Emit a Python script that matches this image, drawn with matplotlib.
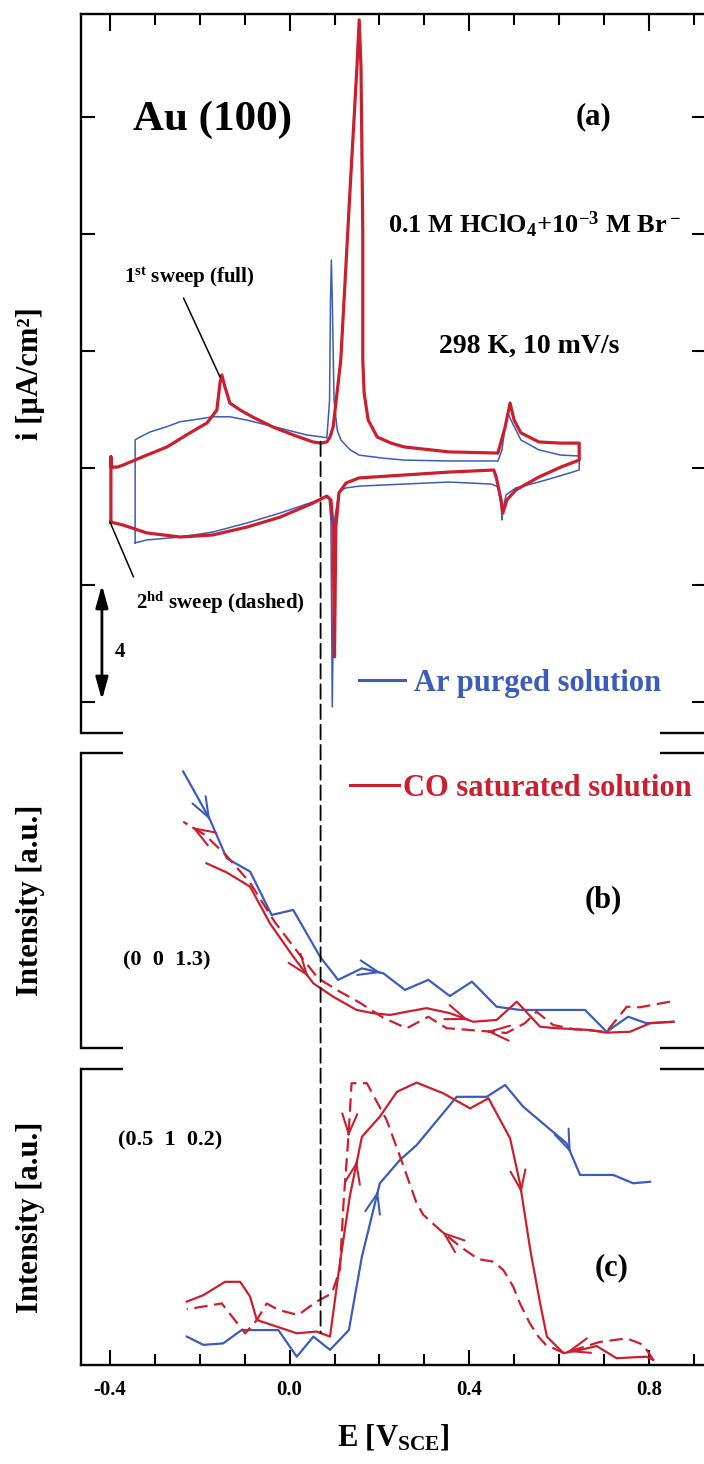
import matplotlib.pyplot as plt
from matplotlib.lines import Line2D
from matplotlib.patches import ConnectionPatch
from matplotlib.ticker import MultipleLocator

plt.rcParams['font.family'] = ['Liberation Serif', 'DejaVu Serif']
plt.rcParams['font.weight'] = 'bold'
plt.rcParams['axes.labelweight'] = 'bold'
plt.rcParams['mathtext.fontset'] = 'custom'
plt.rcParams['mathtext.rm'] = 'Liberation Serif:bold'
plt.rcParams['mathtext.bf'] = 'Liberation Serif:bold'
plt.rcParams['mathtext.default'] = 'bf'
plt.rcParams['axes.unicode_minus'] = False

BLUE = '#3b5cbd'
RED = '#cc1f2e'

# ---- (a) cyclic voltammograms, E [V_SCE] vs i [uA/cm2]
cv_ar_E = [-0.344, -0.344, -0.333, -0.311, -0.274, -0.244, -0.200, -0.171, -0.133, -0.096,
           -0.051, -0.006, 0.038, 0.072, 0.083, 0.089, 0.091, 0.093, 0.095, 0.099,
           0.106, 0.114, 0.135, 0.155, 0.206, 0.255, 0.355, 0.464, 0.473, 0.482,
           0.486, 0.493, 0.515, 0.555, 0.604, 0.645, 0.645, 0.602, 0.555, 0.504,
           0.482, 0.475, 0.473, 0.471, 0.464, 0.450, 0.355, 0.255, 0.155, 0.126,
           0.110, 0.100, 0.095, 0.092, 0.088, 0.079, 0.052, -0.021, -0.095, -0.171,
           -0.244, -0.318, -0.344]
cv_ar_i = [-2.56, 0.96, 1.06, 1.23, 1.41, 1.58, 1.68, 1.75, 1.75, 1.64,
           1.47, 1.30, 1.13, 1.06, 1.03, 2.32, 5.74, 7.11, 5.74, 2.32,
           1.30, 0.96, 0.62, 0.44, 0.34, 0.27, 0.24, 0.24, 0.62, 1.64,
           1.88, 1.64, 0.96, 0.62, 0.44, 0.41, -0.07, -0.27, -0.48, -0.68,
           -0.92, -1.44, -1.78, -1.26, -0.65, -0.55, -0.48, -0.55, -0.62, -0.68,
           -0.80, -1.78, -8.17, -1.78, -1.05, -0.99, -1.16, -1.54, -1.88, -2.19,
           -2.36, -2.46, -2.56]

cv_co_E = [-0.398, -0.398, -0.398, -0.384, -0.371, -0.318, -0.273, -0.222, -0.184, -0.162,
           -0.155, -0.151, -0.144, -0.133, -0.110, -0.082, -0.037, 0.008, 0.052, 0.070,
           0.083, 0.090, 0.097, 0.114, 0.135, 0.150, 0.155, 0.159, 0.163, 0.163,
           0.166, 0.175, 0.195, 0.226, 0.255, 0.355, 0.464, 0.480, 0.491, 0.500,
           0.515, 0.555, 0.604, 0.645, 0.645, 0.604, 0.555, 0.504, 0.484, 0.475,
           0.471, 0.460, 0.455, 0.355, 0.255, 0.155, 0.126, 0.110, 0.103, 0.100,
           0.097, 0.092, 0.083, 0.052, -0.021, -0.095, -0.171, -0.244, -0.318, -0.371,
           -0.398]
cv_co_i = [-1.85, 0.38, 0.03, 0.03, 0.10, 0.44, 0.72, 1.20, 1.54, 1.98,
           2.91, 3.18, 2.77, 2.22, 1.98, 1.74, 1.40, 1.13, 0.89, 0.85,
           0.89, 1.06, 1.40, 3.69, 9.61, 13.71, 15.32, 13.71, 8.03, 3.69,
           2.56, 1.64, 1.06, 0.85, 0.72, 0.55, 0.51, 1.40, 2.22, 1.64,
           1.20, 0.89, 0.85, 0.85, 0.27, 0.03, -0.31, -0.75, -1.09, -1.54,
           -1.09, -0.31, -0.07, -0.14, -0.24, -0.34, -0.51, -0.85, -2.02, -6.46,
           -2.02, -1.09, -0.96, -1.20, -1.68, -2.02, -2.29, -2.36, -2.22, -1.95,
           -1.85]

# ---- (b) (0 0 1.3) intensity, a.u.
b_ar_E = [-0.237, -0.214, -0.177, -0.140, -0.088, -0.040, 0.008, 0.068, 0.108, 0.161,
          0.209, 0.257, 0.309, 0.357, 0.406, 0.461, 0.513, 0.658, 0.706, 0.754,
          0.795, 0.855]
b_ar_I = [0.937, 0.875, 0.773, 0.643, 0.598, 0.451, 0.468, 0.309, 0.231, 0.270,
          0.253, 0.197, 0.231, 0.176, 0.225, 0.140, 0.129, 0.129, 0.055, 0.106,
          0.084, 0.089]
b_co1_E = [-0.185, -0.140, -0.088, -0.044, 0.008, 0.053, 0.097, 0.149, 0.186, 0.224,
           0.261, 0.305, 0.357, 0.409, 0.461, 0.506, 0.558, 0.595, 0.669, 0.706,
           0.758, 0.803, 0.855]
b_co1_I = [0.626, 0.595, 0.547, 0.423, 0.310, 0.219, 0.174, 0.129, 0.118, 0.112,
           0.123, 0.135, 0.118, 0.089, 0.095, 0.157, 0.072, 0.067, 0.061, 0.052,
           0.055, 0.084, 0.089]
b_co2_E = [0.847, 0.780, 0.751, 0.706, 0.632, 0.587, 0.550, 0.524, 0.483, 0.402,
           0.350, 0.320, 0.309, 0.261, 0.209, 0.157, 0.105, 0.063, 0.023, -0.033,
           -0.088, -0.140, -0.188, -0.237]
b_co2_I = [0.157, 0.138, 0.140, 0.055, 0.064, 0.078, 0.123, 0.084, 0.051, 0.061,
           0.067, 0.095, 0.106, 0.067, 0.102, 0.153, 0.197, 0.237, 0.315, 0.427,
           0.560, 0.651, 0.722, 0.767]

# ---- (c) (0.5 1 0.2) intensity, a.u.
c_ar_E = [-0.229, -0.192, -0.148, -0.107, -0.025, 0.016, 0.053, 0.090, 0.132, 0.161,
          0.201, 0.246, 0.283, 0.372, 0.439, 0.480, 0.520, 0.573, 0.617, 0.647,
          0.721, 0.765, 0.803]
c_ar_I = [0.096, 0.068, 0.073, 0.118, 0.118, 0.028, 0.096, 0.051, 0.118, 0.366,
          0.614, 0.693, 0.743, 0.906, 0.906, 0.946, 0.873, 0.805, 0.749, 0.642,
          0.642, 0.614, 0.619]
c_co1_E = [-0.229, -0.192, -0.144, -0.110, -0.088, -0.073, -0.029, 0.016, 0.060, 0.090,
           0.112, 0.134, 0.161, 0.201, 0.239, 0.283, 0.342, 0.402, 0.443, 0.491,
           0.513, 0.536, 0.558, 0.573, 0.610, 0.647, 0.684, 0.728, 0.795, 0.810]
c_co1_I = [0.214, 0.236, 0.281, 0.281, 0.231, 0.152, 0.130, 0.107, 0.113, 0.096,
           0.344, 0.569, 0.771, 0.839, 0.923, 0.954, 0.918, 0.867, 0.901, 0.766,
           0.614, 0.389, 0.208, 0.096, 0.040, 0.051, 0.064, 0.023, 0.028, 0.017]
c_co2_E = [0.810, 0.788, 0.751, 0.691, 0.647, 0.610, 0.571, 0.554, 0.535, 0.513,
           0.498, 0.476, 0.454, 0.420, 0.380, 0.335, 0.298, 0.283, 0.246, 0.216,
           0.172, 0.138, 0.131, 0.120, 0.112, 0.094, 0.060, 0.019, -0.025, -0.051,
           -0.073, -0.099, -0.151, -0.214, -0.229]
c_co2_I = [0.017, 0.068, 0.090, 0.078, 0.057, 0.041, 0.068, 0.096, 0.141, 0.208,
           0.265, 0.321, 0.349, 0.358, 0.400, 0.456, 0.507, 0.546, 0.704, 0.828,
           0.952, 0.952, 0.771, 0.546, 0.321, 0.242, 0.214, 0.169, 0.186, 0.208,
           0.152, 0.107, 0.208, 0.192, 0.189]

# sweep direction arrows: (segment index, position along segment)
b_ar_arrows = [(1, 1.0), (9, 0.9)]
b_co1_arrows = [(4, 0.75), (12, 0.8)]
b_co2_arrows = [(8, 0.55), (22, 0.6)]
c_ar_arrows = [(9, 0.9), (18, 0.3)]
c_co1_arrows = [(11, 0.6), (20, 0.15)]
c_co2_arrows = [(21, 1.0), (14, 0.9), (4, 0.8)]

x_ticks = [-0.4, 0.0, 0.4, 0.8]
x_tick_labels = ['-0.4', '0.0', '0.4', '0.8']
i_ticks = [-8, -4, 0, 4, 8, 12]
E_marker = 0.069

W, H = 704, 1464
fig = plt.figure(figsize=(W / 100, H / 100), dpi=100)


def px_axes(left, top, right, bottom):
    return fig.add_axes([left / W, 1 - bottom / H, (right - left) / W, (bottom - top) / H])


def stub(ax, y):
    # short pieces of a broken frame line on both sides
    for x0, x1 in [(0, 0.067), (0.926, 1.0)]:
        ax.plot([x0, x1], [y, y], transform=ax.transAxes, clip_on=False,
                color='k', lw=1.7, solid_capstyle='butt')


def mark_arrow(ax, xs, ys, seg, t, color):
    x0, y0, x1, y1 = xs[seg], ys[seg], xs[seg + 1], ys[seg + 1]
    tip = (x0 + t * (x1 - x0), y0 + t * (y1 - y0))
    tail = (x0 + (t - 0.05) * (x1 - x0), y0 + (t - 0.05) * (y1 - y0))
    ax.annotate('', xy=tip, xytext=tail,
                arrowprops=dict(arrowstyle='->,head_length=0.8,head_width=0.3', color=color,
                                lw=1.5, shrinkA=0, shrinkB=0, mutation_scale=18))


ax_a = px_axes(81, 14, 706, 733)
ax_b = px_axes(81, 753, 706, 1048)
ax_c = px_axes(81, 1069, 706, 1365)

for ax in (ax_a, ax_b, ax_c):
    ax.set_xlim(-0.4646, 0.9274)
    for s in ax.spines.values():
        s.set_linewidth(1.7)
    ax.spines['bottom'].set_visible(False)
    ax.spines['top'].set_visible(False)
    ax.spines['right'].set_visible(False)
    ax.set_ylabel('Intensity [a.u.]', fontsize=22)
    ax.yaxis.set_label_coords(-0.057, 0.5)
    ax.tick_params(left=False, bottom=False, labelleft=False, labelbottom=False)

# panel (a)
ax_a.set_ylim(-9.06, 15.52)
ax_a.spines['top'].set_visible(True)
ax_a.spines['right'].set_visible(True)
stub(ax_a, 0)
ax_a.set_yticks(i_ticks)
ax_a.tick_params(axis='y', left=True, right=True, direction='in', length=10, width=1.5)
ax_a.xaxis.set_major_locator(MultipleLocator(0.4))
ax_a.xaxis.set_minor_locator(MultipleLocator(0.1))
ax_a.tick_params(axis='x', which='both', top=True, bottom=False, direction='in', width=1.5)
ax_a.tick_params(axis='x', which='major', length=12)
ax_a.tick_params(axis='x', which='minor', length=8)
ax_a.set_ylabel('i [µA/cm²]', fontsize=22)

ax_a.plot(cv_ar_E, cv_ar_i, color=BLUE, lw=1.1)
ax_a.plot(cv_co_E, cv_co_i, color=RED, lw=2.3)

ax_a.text(-0.171, 11.9, 'Au (100)', fontsize=31, ha='center', va='center')
ax_a.text(0.676, 12.0, '(a)', fontsize=22, ha='center', va='center')
ax_a.text(0.547, 8.3, r'0.1 M HClO$_4$+10$^{-3}$ M Br$^-$', fontsize=19, ha='center', va='center')
ax_a.text(0.533, 4.17, '298 K, 10 mV/s', fontsize=20, ha='center', va='center')
ax_a.annotate(r'1$^{st}$ sweep (full)', xy=(-0.155, 3.11), xytext=(-0.224, 6.5),
              fontsize=15, ha='center', va='center',
              arrowprops=dict(arrowstyle='-', color='k', lw=1.1, relpos=(0.43, 0.0),
                              shrinkA=4, shrinkB=0))
ax_a.annotate(r'2$^{hd}$ sweep (dashed)', xy=(-0.400, -1.85), xytext=(-0.155, -4.62),
              fontsize=15, ha='center', va='center',
              arrowprops=dict(arrowstyle='-', color='k', lw=1.1, relpos=(0.02, 1.0),
                              shrinkA=8, shrinkB=0))
ax_a.annotate('', xy=(-0.418, -4.0), xytext=(-0.418, -7.93),
              arrowprops=dict(arrowstyle='<|-|>,head_length=0.9,head_width=0.25', color='k',
                              lw=2, shrinkA=0, shrinkB=0, mutation_scale=15))
ax_a.text(-0.378, -6.29, '4', fontsize=15, ha='center', va='center')
ax_a.legend([Line2D([], [], color=BLUE, lw=2.2)], ['Ar purged solution'],
            loc='center left', bbox_to_anchor=(0.445, 0.0695), frameon=False,
            borderpad=0, borderaxespad=0, handlelength=1.5, handletextpad=0.3,
            prop=dict(size=22, weight='bold'), labelcolor=BLUE)

# panel (b)
ax_b.set_ylim(0, 1)
stub(ax_b, 0)
stub(ax_b, 1)
ax_b.plot(b_ar_E, b_ar_I, color=BLUE, lw=1.6)
ax_b.plot(b_co1_E, b_co1_I, color=RED, lw=1.6)
ax_b.plot(b_co2_E, b_co2_I, color=RED, lw=1.6, ls=(0, (6, 3)))
for seg, t in b_ar_arrows:
    mark_arrow(ax_b, b_ar_E, b_ar_I, seg, t, BLUE)
for seg, t in b_co1_arrows:
    mark_arrow(ax_b, b_co1_E, b_co1_I, seg, t, RED)
for seg, t in b_co2_arrows:
    mark_arrow(ax_b, b_co2_E, b_co2_I, seg, t, RED)
ax_b.text(0.698, 0.502, '(b)', fontsize=22, ha='center', va='center')
ax_b.text(-0.273, 0.298, '(0  0  1.3)', fontsize=16, ha='center', va='center')
ax_b.legend([Line2D([], [], color=RED, lw=2.2)], ['CO saturated solution'],
            loc='center left', bbox_to_anchor=(0.430, 0.881), frameon=False,
            borderpad=0, borderaxespad=0, handlelength=1.6, handletextpad=0.15,
            prop=dict(size=22, weight='bold'), labelcolor=RED)

# panel (c)
ax_c.set_ylim(0, 1)
stub(ax_c, 1)
ax_c.spines['bottom'].set_visible(True)
ax_c.set_xticks(x_ticks, labels=x_tick_labels)
ax_c.xaxis.set_minor_locator(MultipleLocator(0.1))
ax_c.tick_params(axis='x', which='both', bottom=True, labelbottom=True, direction='in',
                 width=1.5, labelsize=15, pad=11)
ax_c.tick_params(axis='x', which='major', length=11)
ax_c.tick_params(axis='x', which='minor', length=8)
ax_c.set_xlabel('E [V$_{SCE}$]', fontsize=22)
ax_c.xaxis.set_label_coords(0.5, -0.195)
ax_c.plot(c_ar_E, c_ar_I, color=BLUE, lw=1.6)
ax_c.plot(c_co1_E, c_co1_I, color=RED, lw=1.6)
ax_c.plot(c_co2_E, c_co2_I, color=RED, lw=1.6, ls=(0, (6, 3)))
for seg, t in c_ar_arrows:
    mark_arrow(ax_c, c_ar_E, c_ar_I, seg, t, BLUE)
for seg, t in c_co1_arrows:
    mark_arrow(ax_c, c_co1_E, c_co1_I, seg, t, RED)
for seg, t in c_co2_arrows:
    mark_arrow(ax_c, c_co2_E, c_co2_I, seg, t, RED)
ax_c.text(0.718, 0.328, '(c)', fontsize=22, ha='center', va='center')
ax_c.text(-0.266, 0.76, '(0.5  1  0.2)', fontsize=16, ha='center', va='center')

# dashed marker line running through all three panels
con = ConnectionPatch(xyA=(E_marker, 0.9), coordsA='data', axesA=ax_a,
                      xyB=(E_marker, 0.108), coordsB='data', axesB=ax_c,
                      color='k', lw=1.3, linestyle=(0, (8, 3.2)))
fig.add_artist(con)

fig.savefig('out.png', dpi=100)
